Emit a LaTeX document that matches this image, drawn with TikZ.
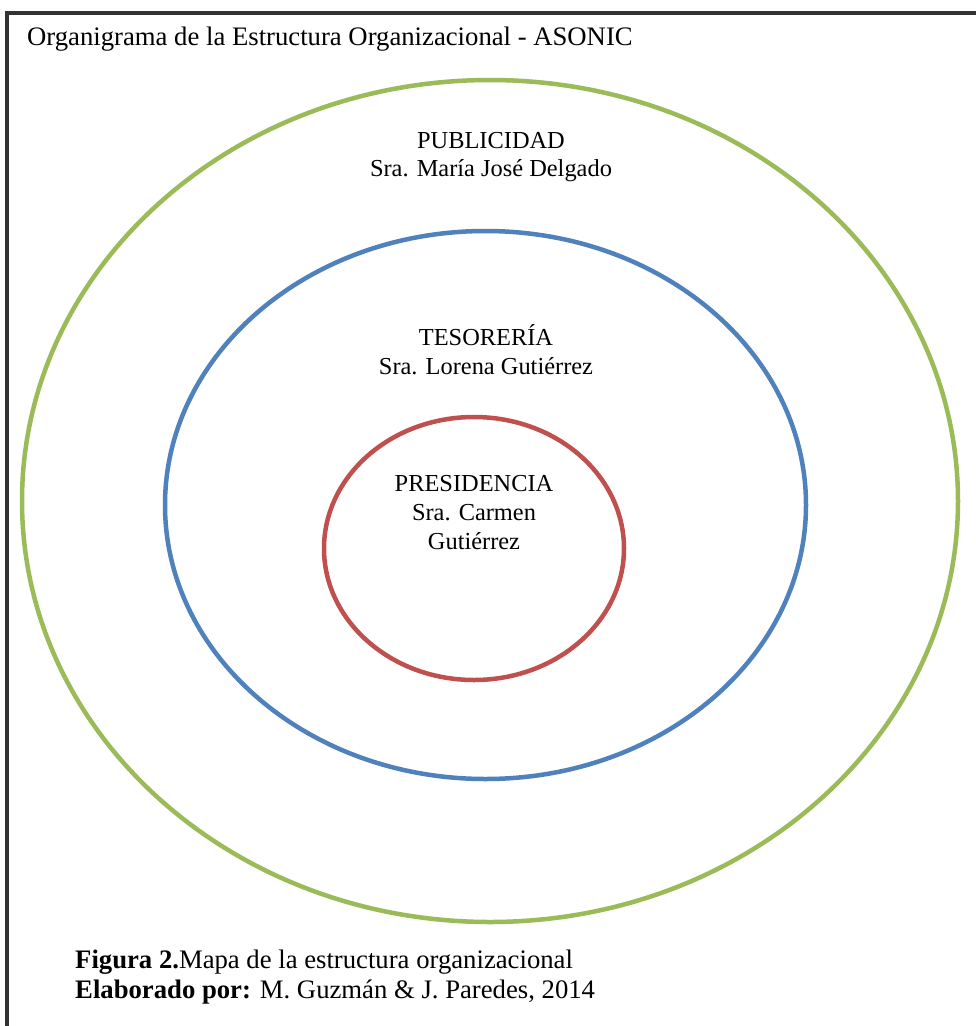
\documentclass[tikz,border=0pt]{standalone}
\usepackage{fontspec}
\setmainfont{Liberation Serif}
\definecolor{ogreen}{HTML}{9BBB59}
\definecolor{oblue}{HTML}{4F81BD}
\definecolor{ored}{HTML}{C0504D}
\definecolor{framecol}{HTML}{333333}
\begin{document}
\begin{tikzpicture}[x=1pt,y=-1pt,
  ring/.style={line width=4.5pt},
  lbl/.style={font=\fontsize{24.4}{28}\selectfont, anchor=base, inner sep=0pt},
  captext/.style={font=\fontsize{26.7}{30}\selectfont, anchor=base west, inner sep=0pt}]
\useasboundingbox (0,0) rectangle (976,1026);
\fill[white] (0,0) rectangle (976,1026);
\draw[framecol, line width=4pt] (7,1030) -- (7,13) -- (980,13);
\node[captext] (title) at (27,45) {Organigrama de la Estructura Organizacional - ASONIC};
\draw[ring, ogreen] (490,501) ellipse [x radius=468, y radius=421];
\draw[ring, oblue] (485.5,505) ellipse [x radius=320.5, y radius=274];
\draw[ring, ored] (474,548.5) ellipse [x radius=150, y radius=131.5];
\node[lbl] (pub1) at (491,148) {PUBLICIDAD};
\node[lbl] (pub2) at (491,176) {Sra. María José Delgado};
\node[lbl] (tes1) at (486,345) {TESORERÍA};
\node[lbl] (tes2) at (486,374) {Sra. Lorena Gutiérrez};
\node[lbl] (pres1) at (474,491) {PRESIDENCIA};
\node[lbl] (pres2) at (474,520) {Sra. Carmen};
\node[lbl] (pres3) at (474,549) {Gutiérrez};
\node[captext] (cap1) at (75,968) {\textbf{Figura 2.}Mapa de la estructura organizacional};
\node[captext] (cap2) at (75,998) {\textbf{Elaborado por:} M. Guzmán \& J. Paredes, 2014};
\end{tikzpicture}
\end{document}
